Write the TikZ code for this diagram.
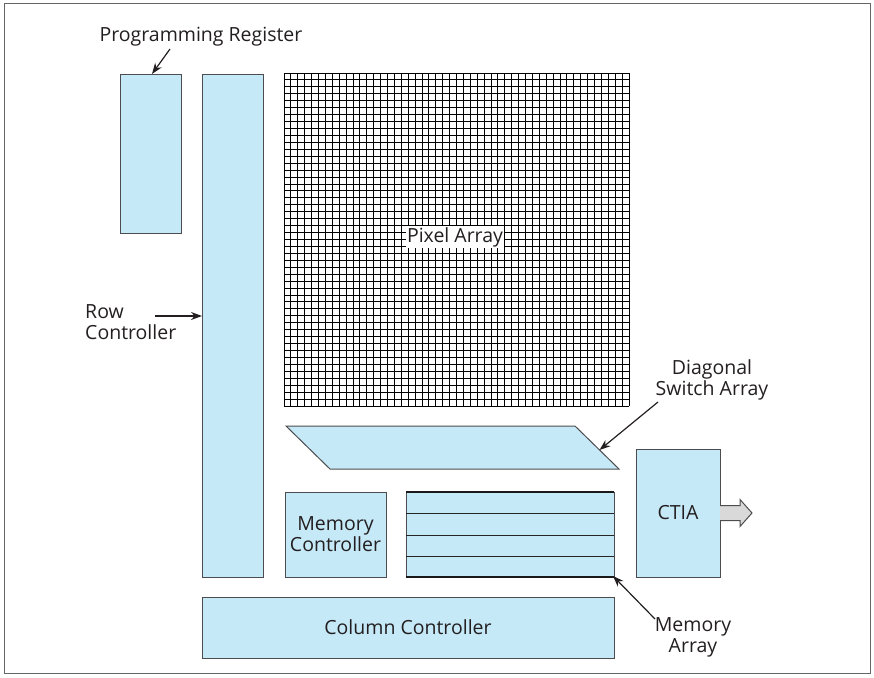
\documentclass[tikz,border=0pt]{standalone}
\usepackage{fontspec}
\setmainfont{Open Sans}
\usetikzlibrary{arrows.meta}
\definecolor{boxfill}{HTML}{C6E9F8}
\definecolor{boxline}{HTML}{4D4D4F}
\definecolor{txt}{HTML}{231F20}
\definecolor{outfill}{HTML}{D9D9D9}
\begin{document}
\begin{tikzpicture}[x=1pt,y=-1pt,
  lblfont/.style={font=\fontsize{19.5}{21}\selectfont},
  box/.style={draw=boxline, fill=boxfill, line width=1pt, inner sep=0pt, outer sep=0pt, lblfont, text=txt, align=center},
  lbl/.style={lblfont, text=txt, inner sep=1pt},
  pointer/.style={-{Stealth[length=11pt,width=8pt]}, line width=1.2pt, draw=txt},
  gridline/.style={draw=black, line width=0.9pt}]
\useasboundingbox (0,0) rectangle (874,677);
\draw[draw=black!60, line width=1pt] (4,4) rectangle (870,673);
% boxes
\node[box, minimum width=61pt, minimum height=159pt] (preg) at (150.5,153.5) {};
\node[box, minimum width=61pt, minimum height=503pt] (rowc) at (232.5,325.5) {};
\node[box, minimum width=101pt, minimum height=85pt] (memc) at (335.5,534.5) {Memory\\Controller};
\node[box, minimum width=208pt, minimum height=85pt] (mema) at (510,534.5) {};
\foreach \yy in {513,535,556} \draw[draw=black!85, line width=1pt] (406,\yy) -- (614,\yy);
\draw[draw=black!90, line width=1.5pt] (mema.north west) -- (mema.north east);
\draw[draw=black!90, line width=1.5pt] (mema.south west) -- (mema.south east);
\node[box, minimum width=84pt, minimum height=128pt] (ctia) at (678,513) {CTIA};
\node[box, minimum width=412pt, minimum height=61pt] (colc) at (408,627.5) {Column Controller};
% diagonal switch array
\draw[draw=boxline, fill=boxfill, line width=1pt] (286,426) -- (575,426) -- (619,469) -- (330,469) -- cycle;
\coordinate (dsa) at (599.5,450);
% output arrow
\draw[draw=boxline, fill=outfill, line width=1pt] ([shift={(0,-7.5)}]ctia.east) -- ++(20,0) -- ++(0,-6) -- ++(12,13.5) -- ++(-12,13.5) -- ++(0,-6) -- ++(-20,0);
% pixel array grid
\node[minimum width=345pt, minimum height=333pt, inner sep=0pt] (pix) at (456.5,239.5) {};
\foreach \i in {0,...,50} \draw[gridline] ({284+\i*6.9},73) -- ({284+\i*6.9},406);
\foreach \j in {0,...,48} \draw[gridline] (284,{73+\j*6.9375}) -- (629,{73+\j*6.9375});
\node[lbl, fill=white, inner sep=1.5pt] (pixl) at (455,237) {Pixel Array};
% labels
\node[lbl] (progl) at (201,37) {Programming Register};
\coordinate (prtail) at (170,49);
\draw[pointer] (prtail) -- ([xshift=1.5pt]preg.north);
\node[lbl, align=left, anchor=west] (rowl) at (84,322) {Row\\Controller};
\coordinate (rctail) at (155,316);
\draw[pointer] (rctail) -- (rctail -| rowc.west);
\node[lbl, align=center] (diagl) at (712,380) {Diagonal\\Switch Array};
\coordinate (dtail) at (658,402);
\draw[pointer] (dtail) -- (dsa);
\node[lbl, align=center] (memal) at (693,637) {Memory\\Array};
\coordinate (mtail) at (655,619);
\draw[pointer] (mtail) -- ([shift={(-1,-1)}]mema.south east);
\end{tikzpicture}
\end{document}
